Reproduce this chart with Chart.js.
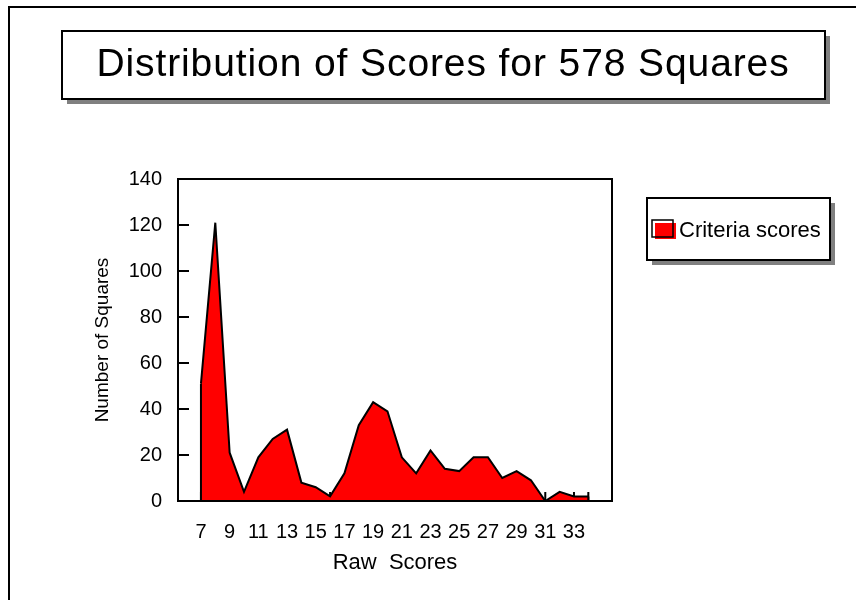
<!DOCTYPE html>
<html>
<head>
<meta charset="utf-8">
<script src="https://cdn.jsdelivr.net/npm/chart.js@4.4.0/dist/chart.umd.min.js"></script>
<style>
  html, body { margin: 0; padding: 0; background: #fff; }
  #wrap { position: relative; width: 856px; height: 600px; }
</style>
</head>
<body>
<div id="wrap"><canvas id="chart1" width="856" height="600"></canvas></div>
<script>
const chartTitle = 'Distribution of Scores for 578 Squares';
const seriesLabel = 'Criteria scores';
const xAxisTitle = 'Raw  Scores';
const yAxisTitle = 'Number of Squares';

const rawScores = [7, 8, 9, 10, 11, 12, 13, 14, 15, 16, 17, 18, 19, 20,
  21, 22, 23, 24, 25, 26, 27, 28, 29, 30, 31, 32, 33, 34];
const squareCounts = [51, 121, 21, 4, 19, 27, 31, 8, 6, 2, 12, 33, 43, 39,
  19, 12, 22, 14, 13, 19, 19, 10, 13, 9, 0, 4, 2, 2];
const xTickLabels = [7, 9, 11, 13, 15, 17, 19, 21, 23, 25, 27, 29, 31, 33];
const yTickLabels = [0, 20, 40, 60, 80, 100, 120, 140];

const FONT = "'Liberation Sans', Arial, sans-serif";
Chart.defaults.font.family = FONT;
Chart.defaults.color = '#000';

// frame, title box, legend box and the inward tick marks
const boxesPlugin = {
  id: 'boxes',
  beforeDatasetsDraw(chart) {
    const {ctx, chartArea: a, scales: {x, y}} = chart;
    ctx.save();
    ctx.strokeStyle = '#000';
    ctx.lineWidth = 2;
    ctx.beginPath();
    for (const s of rawScores) {
      const px = x.getPixelForValue(s);
      ctx.moveTo(px, a.bottom);
      ctx.lineTo(px, a.bottom - 9);
    }
    for (const v of yTickLabels) {
      const py = y.getPixelForValue(v);
      ctx.moveTo(a.left, py);
      ctx.lineTo(a.left + 11, py);
    }
    ctx.stroke();
    ctx.restore();
  },
  afterDatasetsDraw(chart) {
    const {ctx, chartArea: a} = chart;
    const pts = chart.getDatasetMeta(0).data;
    const first = pts[0], last = pts[pts.length - 1];
    ctx.save();
    ctx.strokeStyle = '#000';
    ctx.lineWidth = 2;
    ctx.beginPath();
    ctx.moveTo(first.x, first.y);
    ctx.lineTo(first.x, a.bottom);
    ctx.moveTo(last.x, last.y);
    ctx.lineTo(last.x, a.bottom);
    ctx.stroke();
    ctx.strokeRect(a.left, a.top, a.right - a.left, a.bottom - a.top);
    ctx.restore();
  },
  afterDraw(chart) {
    const ctx = chart.ctx;
    ctx.save();
    // outer frame
    ctx.fillStyle = '#000';
    ctx.fillRect(8, 6, 2, 594);
    ctx.fillRect(8, 6, 848, 2);

    // title box
    ctx.fillStyle = '#808080';
    ctx.fillRect(67, 36, 763, 68);
    ctx.fillStyle = '#fff';
    ctx.fillRect(62, 31, 763, 68);
    ctx.strokeStyle = '#000';
    ctx.lineWidth = 2;
    ctx.strokeRect(62, 31, 763, 68);
    ctx.fillStyle = '#000';
    ctx.font = '39px ' + FONT;
    ctx.letterSpacing = '0.9px';
    ctx.textAlign = 'center';
    ctx.textBaseline = 'alphabetic';
    ctx.fillText(chartTitle, 443, 76);
    ctx.letterSpacing = '0px';

    // legend box
    ctx.fillStyle = '#808080';
    ctx.fillRect(652, 203, 183, 62);
    ctx.fillStyle = '#fff';
    ctx.fillRect(647, 198, 183, 62);
    ctx.strokeRect(647, 198, 183, 62);
    ctx.fillStyle = '#ff0000';
    ctx.fillRect(655, 223, 21, 16);
    ctx.lineWidth = 1.5;
    ctx.strokeRect(652, 220, 21, 17);
    ctx.fillStyle = '#000';
    ctx.font = '22px ' + FONT;
    ctx.textAlign = 'left';
    ctx.fillText(chart.data.datasets[0].label, 679, 237);
    ctx.restore();
  }
};

const points = rawScores.map((s, i) => ({x: s, y: squareCounts[i]}));

new Chart(document.getElementById('chart1'), {
  type: 'line',
  data: {
    datasets: [{
      label: seriesLabel,
      data: points,
      borderColor: '#000',
      borderWidth: 2,
      backgroundColor: '#ff0000',
      fill: 'origin',
      tension: 0,
      pointRadius: 0
    }]
  },
  options: {
    responsive: false,
    animation: false,
    devicePixelRatio: 1,
    layout: { padding: { top: 179, right: 244, bottom: 20, left: 87 } },
    plugins: {
      legend: { display: false },
      title: { display: false },
      tooltip: { enabled: false }
    },
    scales: {
      x: {
        type: 'linear',
        min: 5.4,
        max: 35.65,
        grid: { display: true, drawOnChartArea: false, drawTicks: false },
        border: { display: true, color: '#000', width: 2 },
        afterBuildTicks(scale) {
          scale.ticks = xTickLabels.map(v => ({value: v}));
        },
        afterFit(scale) { scale.height = 79; },
        ticks: {
          autoSkip: false,
          maxRotation: 0,
          padding: 19,
          font: { size: 20 },
          color: '#000'
        },
        title: { display: true, text: xAxisTitle, font: { size: 22 }, color: '#000' }
      },
      y: {
        min: 0,
        max: 140,
        grid: { display: true, drawOnChartArea: false, drawTicks: false },
        border: { display: true, color: '#000', width: 2 },
        afterBuildTicks(scale) {
          scale.ticks = yTickLabels.map(v => ({value: v}));
        },
        afterFit(scale) { scale.width = 91; },
        ticks: {
          padding: 16,
          font: { size: 20 },
          color: '#000'
        },
        title: { display: true, text: yAxisTitle, font: { size: 19 }, color: '#000' }
      }
    }
  },
  plugins: [boxesPlugin]
});
</script>
</body>
</html>
